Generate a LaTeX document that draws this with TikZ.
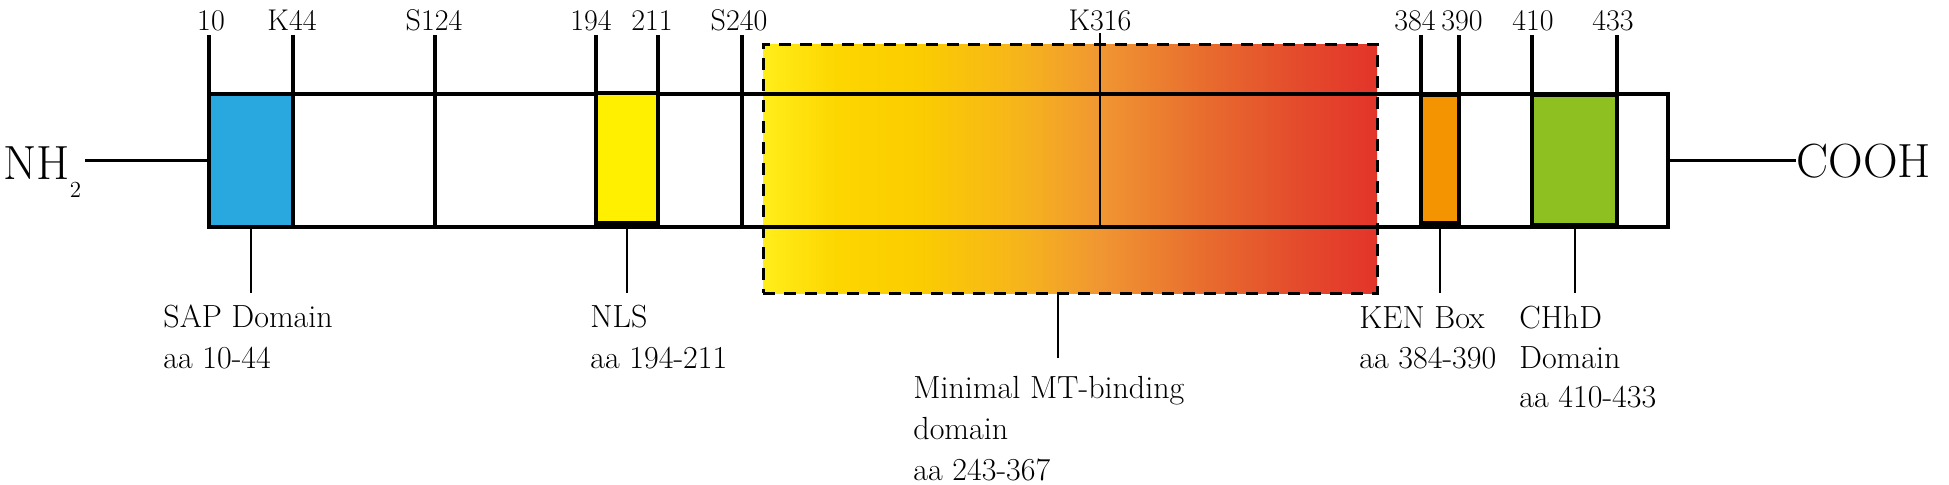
\documentclass[tikz,border=0pt]{standalone}
\usepackage{fontspec}
\usetikzlibrary{fit}
\definecolor{sapblue}{RGB}{41,168,224}
\definecolor{nlsyellow}{RGB}{255,240,0}
\definecolor{kenorange}{RGB}{243,148,0}
\definecolor{chhdgreen}{RGB}{141,192,32}
\definecolor{g0}{RGB}{255,238,26}
\definecolor{g1}{RGB}{253,214,0}
\definecolor{g2}{RGB}{251,205,0}
\definecolor{g3}{RGB}{246,180,28}
\definecolor{g4}{RGB}{240,150,50}
\definecolor{g5}{RGB}{232,108,46}
\definecolor{g6}{RGB}{228,75,44}
\definecolor{g7}{RGB}{227,52,42}
\pgfdeclarehorizontalshading{mtgrad}{100bp}{color(0bp)=(g0); color(25bp)=(g0); color(31bp)=(g1); color(37.5bp)=(g2); color(46bp)=(g3); color(52.5bp)=(g4); color(61bp)=(g5); color(68.5bp)=(g6); color(75bp)=(g7); color(100bp)=(g7)}
\begin{document}
\begin{tikzpicture}[x=0.5pt,y=-0.5pt,
  box/.style={inner sep=0pt, outer sep=0pt},
  domainbox/.style={box, draw, line width=2.2pt},
  termline/.style={line width=1.9pt},
  tickline/.style={line width=1.6pt},
  conn/.style={line width=1pt},
  numlab/.style={inner sep=0pt, anchor=base, font=\fontsize{15}{17}\selectfont},
  lab/.style={inner sep=0pt, anchor=base west, font=\fontsize{16}{19}\selectfont},
  term/.style={inner sep=0pt, anchor=base west, font=\fontsize{24}{28}\selectfont}]
\useasboundingbox (0,0) rectangle (1949,484);

% minimal MT-binding domain (gradient, dashed)
\node[box, fit={(763,44) (1377,293)}, shade, shading=mtgrad, draw, dash pattern=on 6pt off 4.5pt, line width=1.5pt] (mt) {};

% main bar
\node[box, fit={(209,94) (1668,227)}, draw, line width=1.8pt] (bar) {};

% domains
\node[domainbox, fit={(209,94) (293,227)}, fill=sapblue] (sap) {};
\node[domainbox, line width=2pt, fit={(596,93) (658,223)}, fill=nlsyellow] (nls) {};
\node[domainbox, line width=2pt, fit={(1421,95) (1459,223)}, fill=kenorange] (ken) {};
\node[domainbox, line width=2pt, fit={(1532,95) (1617,225)}, fill=chhdgreen] (chhd) {};

% tick reference coordinates
\coordinate (top) at (0,35);
\coordinate (low) at (0,293);
\coordinate (s124) at (435,35);
\coordinate (s240) at (742,35);
\coordinate (k316) at (1100,33);

% ticks
\draw[tickline] (sap.north west |- top) -- (sap.north west);
\draw[tickline] (sap.north east |- top) -- (sap.north east);
\draw[tickline] (s124) -- (s124 |- bar.south);
\draw[tickline] (nls.north west |- top) -- (nls.north west);
\draw[tickline] (nls.north east |- top) -- (nls.north east);
\draw[tickline] (s240) -- (s240 |- bar.south);
\draw[line width=1.3pt] (k316) -- (k316 |- bar.south);
\draw[tickline] (ken.north west |- top) -- (ken.north west);
\draw[tickline] (ken.north east |- top) -- (ken.north east);
\draw[tickline] (chhd.north west |- top) -- (chhd.north west);
\draw[tickline] (chhd.north east |- top) -- (chhd.north east);

% position labels
\node[numlab] (l10) at (211,30) {10};
\node[numlab] (l44) at (292,30) {K44};
\node[numlab] (l124) at (434,30) {S124};
\node[numlab] (l194) at (591,30) {194};
\node[numlab] (l211) at (652,30) {211};
\node[numlab] (l240) at (739,30) {S240};
\node[numlab] (l316) at (1100,30) {K316};
\node[numlab] (l384) at (1415,30) {384};
\node[numlab] (l390) at (1462,30) {390};
\node[numlab] (l410) at (1533,30) {410};
\node[numlab] (l433) at (1613,30) {433};

% termini
\node[term] (nh) at (3,179) {NH\raisebox{-9pt}{\fontsize{11.5}{12}\selectfont 2}};
\coordinate (nhend) at (85,160.5);
\draw[termline] (nhend) -- (bar.west);
\node[term] (cooh) at (1796,177) {COOH};
\draw[termline] (bar.east) -- (bar.east -| cooh.west);

% connectors to descriptions
\coordinate (mtend) at (1058,358);
\draw[conn] (sap.south) -- (sap.south |- low);
\draw[conn] (nls.south) -- (nls.south |- low);
\draw[conn] (mt.south -| mtend) -- (mtend);
\draw[conn] (ken.south) -- (ken.south |- low);
\draw[conn] (chhd.south) -- (chhd.south |- low);

% descriptions
\node[lab] (sapa) at (163,327) {SAP Domain};
\node[lab] (sapb) at (163,368) {aa 10-44};
\node[lab] (nlsa) at (590,327) {NLS};
\node[lab] (nlsb) at (590,368) {aa 194-211};
\node[lab] (mta) at (913,398) {Minimal MT-binding};
\node[lab] (mtb) at (913,439) {domain};
\node[lab] (mtc) at (913,480) {aa 243-367};
\node[lab] (kena) at (1359,328) {KEN Box};
\node[lab] (kenb) at (1359,368) {aa 384-390};
\node[lab] (chhda) at (1519,328) {CHhD};
\node[lab] (chhdb) at (1519,368) {Domain};
\node[lab] (chhdc) at (1519,407) {aa 410-433};
\end{tikzpicture}
\end{document}
